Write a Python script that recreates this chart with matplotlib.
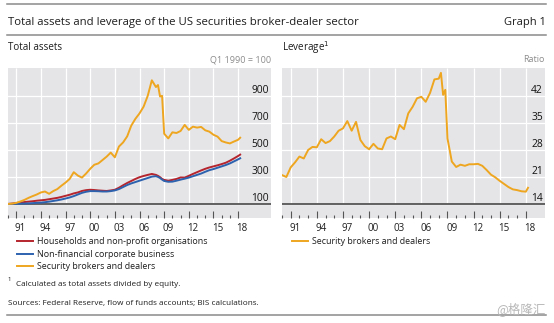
import matplotlib
matplotlib.use("Agg")
import matplotlib.pyplot as plt
import numpy as np
from matplotlib.lines import Line2D

plt.rcParams['font.family'] = ['Open Sans', 'DejaVu Sans']

# half-yearly observations, extra quarters around the 2008 crash, last point 2018 Q2
dates = np.concatenate([np.arange(1990, 2008.01, 0.5), [2008.25, 2008.5, 2008.75],
                        np.arange(2009, 2018.01, 0.5), [2018.25]])

households = [100, 103, 107, 110, 114, 117, 120, 124, 127, 130, 135, 140, 145, 152, 160, 168,
              178, 185, 196, 202, 205, 203, 200, 198, 196, 200, 205, 220, 238, 255, 270, 285,
              298, 307, 315, 322, 315,
              308, 298, 285,
              278, 272, 278, 285, 296, 295, 308, 322, 335, 348, 360, 370, 378, 386, 395, 405,
              420, 437, 455,
              465]
nonfin_corp = [100, 100, 101, 102, 103, 104, 106, 108, 110, 113, 117, 122, 127, 133, 140, 148,
               158, 170, 182, 190, 195, 195, 194, 192, 192, 195, 200, 210, 225, 240, 252, 262,
               272, 282, 292, 302, 305,
               300, 292, 280,
               270, 264, 265, 272, 280, 287, 295, 305, 315, 325, 338, 350, 358, 368, 378, 388,
               400, 415, 430,
               438]
brokers = [100, 102, 108, 118, 130, 145, 158, 170, 185, 192, 175, 195, 210, 235, 258, 285,
           335, 310, 295, 325, 360, 390, 400, 425, 450, 480, 445, 525, 555, 600, 680, 730,
           770, 820, 900, 1015, 965,
           980, 895, 900,
           620, 585, 630, 625, 640, 685, 648, 672, 665, 670, 645, 635, 612, 598, 565, 555,
           548, 562, 575,
           590]
leverage = [21.5, 21.0, 23.5, 24.8, 26.3, 25.8, 28.0, 28.8, 28.7, 30.8, 29.8, 30.3, 31.5, 33.0,
            33.6, 35.5, 33.0, 35.3, 30.6, 29.0, 28.2, 29.6, 28.4, 28.2, 31.0, 31.5, 30.8, 34.5,
            33.4, 37.5, 39.2, 41.4, 41.8, 40.5, 42.8, 46.3, 46.5,
            48.0, 42.3, 43.6,
            31.0, 25.0, 23.6, 24.2, 23.9, 24.3, 24.3, 24.4, 23.9, 22.8, 21.6, 20.9, 20.0, 19.2,
            18.4, 17.8, 17.6, 17.3, 17.2,
            18.2]

assets_ticks = [100, 300, 500, 700, 900]
ratio_ticks = [14, 21, 28, 35, 42]
major_years = list(range(1991, 2019, 3))
minor_years = list(range(1990, 2019))
year_labels = ['91', '94', '97', '00', '03', '06', '09', '12', '15', '18']

RED = '#B5252D'
BLUE = '#2D62AE'
GOLD = '#EEA620'
BG = '#E5E5E8'
TXT = '#1E1E1E'

W, H = 554, 323
fig = plt.figure(figsize=(W / 100, H / 100), dpi=100)


def fx(px):
    return px / W


def fy(py):
    return 1 - py / H


def setup(ax, xmax, ylim, yticks):
    ax.set_facecolor(BG)
    for s in ax.spines.values():
        s.set_visible(False)
    ax.set_xlim(1990, xmax)
    ax.set_ylim(ylim)
    base = yticks[0]
    ax.set_yticks(yticks)
    ax.yaxis.tick_right()
    ax.tick_params(axis='y', length=0, pad=-1.5, labelsize=7.4, labelcolor='#111111')
    plt.setp(ax.get_yticklabels(), ha='right', va='bottom')
    ax.grid(axis='y', color='white', lw=0.9)
    ax.set_axisbelow(True)
    ax.vlines(major_years, base, ylim[1], colors='white', lw=0.9, zorder=0.6)
    ax.axhline(base, color='#555555', lw=1.3, zorder=3)
    ax.set_xticks(major_years)
    ax.set_xticklabels([])
    ax.set_xticks(minor_years, minor=True)
    ax.tick_params(axis='x', which='major', direction='in', length=5, width=0.8, color='#555555')
    ax.tick_params(axis='x', which='minor', direction='in', length=2.5, width=0.8, color='#555555')
    sec = ax.secondary_xaxis('bottom')
    sec.set_xticks([y + 0.5 for y in major_years], labels=year_labels)
    sec.tick_params(length=0, pad=3.5, labelsize=7.0, labelcolor=TXT)
    sec.spines['bottom'].set_visible(False)


ax1 = fig.add_axes([fx(8), fy(218), fx(263), 150 / H])
setup(ax1, 2022.0, (-4, 1106), assets_ticks)
h1, = ax1.plot(dates, households, color=RED, lw=1.4, zorder=4, label='Households and non-profit organisations')
h2, = ax1.plot(dates, nonfin_corp, color=BLUE, lw=1.4, zorder=4, label='Non-financial corporate business')
h3, = ax1.plot(dates, brokers, color=GOLD, lw=1.4, zorder=4, label='Security brokers and dealers')

ax2 = fig.add_axes([fx(282), fy(218), fx(263), 150 / H])
setup(ax2, 2020.2, (10.37, 49.26), ratio_ticks)
h4, = ax2.plot(dates, leverage, color=GOLD, lw=1.4, zorder=4, label='Security brokers and dealers')

# header and rules
for yy in (4, 35, 315):
    fig.add_artist(Line2D([fx(7), fx(546)], [fy(yy), fy(yy)], color='#8A8A8A', lw=1.1))
fig.text(fx(8), fy(22), 'Total assets and leverage of the US securities broker-dealer sector',
         fontsize=8.2, color=TXT, va='center')
fig.text(fx(546), fy(22), 'Graph 1', fontsize=8.0, color=TXT, va='center', ha='right')
fig.text(fx(8), fy(48), 'Total assets', fontsize=7.1, color=TXT, va='center')
fig.text(fx(282), fy(48), 'Leverage$^{1}$', fontsize=7.1, color=TXT, va='center')
fig.text(fx(271), fy(60), 'Q1 1990 = 100', fontsize=6.5, color='#8C8C8C', va='center', ha='right')
fig.text(fx(545), fy(60), 'Ratio', fontsize=6.5, color='#8C8C8C', va='center', ha='right')

fig.legend(handles=[h1, h2, h3], loc='upper left', bbox_to_anchor=(fx(16.5), fy(237)),
           frameon=False, fontsize=6.4, handlelength=1.8, handletextpad=0.55,
           labelspacing=0.42, borderpad=0, borderaxespad=0, labelcolor=TXT)
fig.legend(handles=[h4], loc='upper left', bbox_to_anchor=(fx(291.5), fy(237)),
           frameon=False, fontsize=6.4, handlelength=1.8, handletextpad=0.55,
           borderpad=0, borderaxespad=0, labelcolor=TXT)

fig.text(fx(8), fy(282), '1', fontsize=4.4, color=TXT, va='bottom')
fig.text(fx(16), fy(284), 'Calculated as total assets divided by equity.', fontsize=5.9,
         color=TXT, va='center')
fig.text(fx(8), fy(303), 'Sources: Federal Reserve, flow of funds accounts; BIS calculations.',
         fontsize=5.9, color=TXT, va='center')
fig.text(fx(546), fy(309), '@格隆汇', fontsize=9, color='#B8B8B8', va='center', ha='right',
         family=['Noto Sans CJK SC', 'DejaVu Sans'])

fig.savefig('out.png', dpi=100)
